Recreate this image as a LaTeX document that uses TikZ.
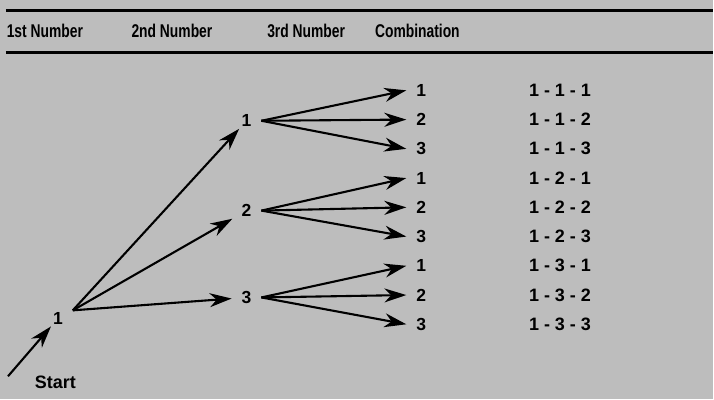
\documentclass[tikz,border=0pt]{standalone}
\usepackage{fontspec}
\setmainfont{Liberation Sans}
\usetikzlibrary{arrows.meta}
\definecolor{panelgray}{RGB}{189,189,189}
\tikzset{every picture/.style={line width=2.1pt}}

\begin{document}
\begin{tikzpicture}[x=1pt,y=1pt,yscale=-1,xscale=1,
  head/.style={anchor=west,inner sep=0pt,font=\fontsize{18.5}{20}\selectfont\bfseries,xscale=0.75},
  digit/.style={inner xsep=9pt,inner ysep=1pt,font=\fontsize{17.5}{20}\selectfont\bfseries},
  combo/.style={anchor=west,inner sep=0pt,font=\fontsize{18}{20}\selectfont\bfseries},
  arr/.style={-{Stealth[length=22pt,width=14pt,inset=7pt]}}]
%background, sets the picture at 714 x 400
\path [fill=panelgray] (0,0) rectangle (714,400);

%header rules
\draw [line width=2.7pt] (6,10.7) -- (714,10.7);
\draw [line width=2.7pt] (6,52.7) -- (714,52.7);

% Header text
\node [head] (h1) at (6,31) {1st Number};
\node [head] (h2) at (131,31) {2nd Number};
\node [head] (h3) at (267,31) {3rd Number};
\node [head] (h4) at (375,31) {Combination};

% Start
\node [anchor=west,inner sep=0pt,font=\fontsize{18}{20}\selectfont\bfseries] (start) at (34,383) {Start};
\coordinate (st) at (8,377);
\node [digit] (r) at (58,319) {1};
\draw [arr] (st) -- (r);

% 2nd number
\node [digit] (a1) at (247,121) {1};
\node [digit] (a2) at (247,211) {2};
\node [digit] (a3) at (247,298) {3};
\draw [arr] (r.north east) -- (a1);
\draw [arr] (r.north east) -- (a2);
\draw [arr] (r.north east) -- (a3);

% 3rd number
\node [digit] (b11) at (422,90.5) {1};
\node [digit] (b12) at (422,119.8) {2};
\node [digit] (b13) at (422,149.1) {3};
\node [digit] (b21) at (422,178.4) {1};
\node [digit] (b22) at (422,207.7) {2};
\node [digit] (b23) at (422,237) {3};
\node [digit] (b31) at (422,266.3) {1};
\node [digit] (b32) at (422,295.6) {2};
\node [digit] (b33) at (422,324.9) {3};
\draw [arr] (a1.east) -- (b11.west);
\draw [arr] (a1.east) -- (b12.west);
\draw [arr] (a1.east) -- (b13.west);
\draw [arr] (a2.east) -- (b21.west);
\draw [arr] (a2.east) -- (b22.west);
\draw [arr] (a2.east) -- (b23.west);
\draw [arr] (a3.east) -- (b31.west);
\draw [arr] (a3.east) -- (b32.west);
\draw [arr] (a3.east) -- (b33.west);

% Combinations
\node [combo] (c11) at (529,90.5) {1 - 1 - 1};
\node [combo] (c12) at (529,119.8) {1 - 1 - 2};
\node [combo] (c13) at (529,149.1) {1 - 1 - 3};
\node [combo] (c21) at (529,178.4) {1 - 2 - 1};
\node [combo] (c22) at (529,207.7) {1 - 2 - 2};
\node [combo] (c23) at (529,237) {1 - 2 - 3};
\node [combo] (c31) at (529,266.3) {1 - 3 - 1};
\node [combo] (c32) at (529,295.6) {1 - 3 - 2};
\node [combo] (c33) at (529,324.9) {1 - 3 - 3};

\end{tikzpicture}
\end{document}
